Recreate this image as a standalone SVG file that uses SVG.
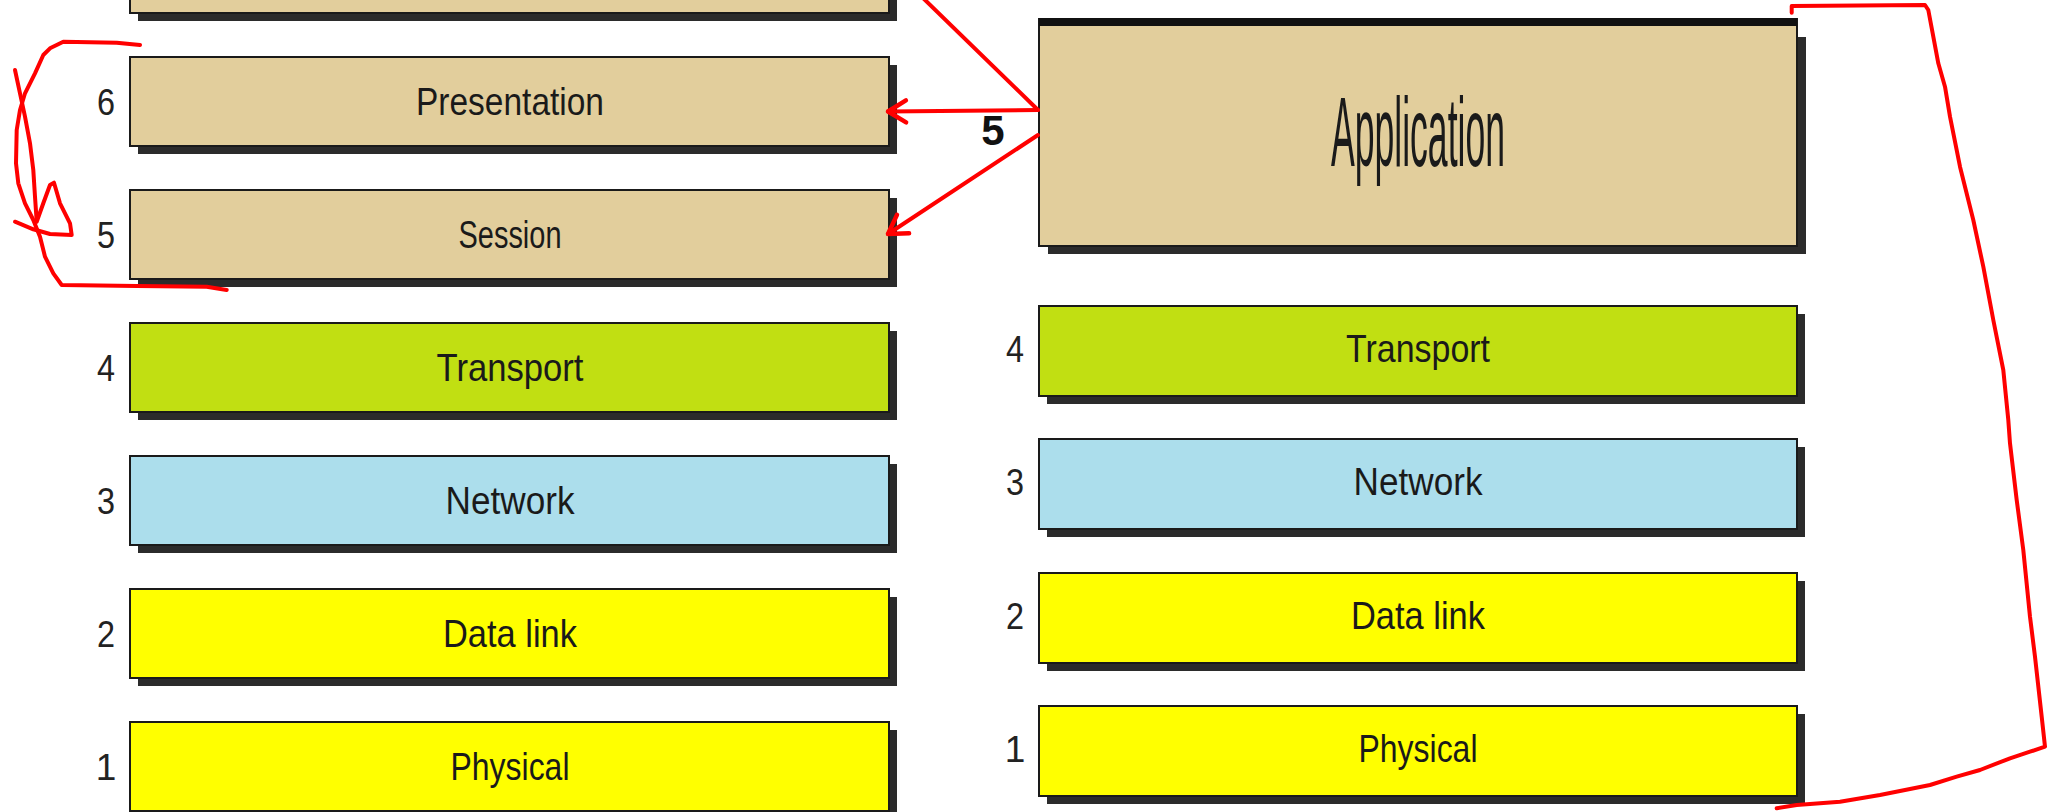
<svg xmlns="http://www.w3.org/2000/svg" width="2050" height="812" viewBox="0 0 2050 812">
<style>
.box{stroke:#1a1a1a;stroke-width:2}
.shadow{fill:#2b2b2b}
.tan{fill:#e2ce9c}
.green{fill:#c1df12}
.blue{fill:#acdeec}
.yellow{fill:#ffff00}
.lbl{font-family:"Liberation Sans",Arial,sans-serif;font-size:39px;fill:#1a1a1a;text-anchor:middle}
.num{font-family:"Liberation Sans",Arial,sans-serif;font-size:37px;fill:#222;text-anchor:middle}
.red{fill:none;stroke:#ff0000;stroke-width:4;stroke-linecap:round;stroke-linejoin:round}
</style>
<defs>
<marker id="chev" markerUnits="userSpaceOnUse" viewBox="-22 -15 26 30" refX="0" refY="0" markerWidth="26" markerHeight="30" orient="auto">
<path d="M-18,-11 L0,0 L-18,11" fill="none" stroke="#ff0000" stroke-width="4.5" stroke-linecap="round" stroke-linejoin="round"/>
</marker>
</defs>
<rect width="2050" height="812" fill="#ffffff"/>

<g id="left-7">
<rect class="shadow" x="138" y="-68" width="759" height="89"/>
<rect class="box tan" x="130" y="-76" width="759" height="89"/>
</g>
<g id="left-presentation">
<rect class="shadow" x="138" y="65" width="759" height="89"/>
<rect class="box tan" x="130" y="57" width="759" height="89"/>
<text class="num" x="106" y="115" textLength="18" lengthAdjust="spacingAndGlyphs">6</text>
<text class="lbl" x="510" y="115" textLength="188" lengthAdjust="spacingAndGlyphs">Presentation</text>
</g>
<g id="left-session">
<rect class="shadow" x="138" y="198" width="759" height="89"/>
<rect class="box tan" x="130" y="190" width="759" height="89"/>
<text class="num" x="106" y="248" textLength="18" lengthAdjust="spacingAndGlyphs">5</text>
<text class="lbl" x="510" y="248" textLength="103" lengthAdjust="spacingAndGlyphs">Session</text>
</g>
<g id="left-transport">
<rect class="shadow" x="138" y="331" width="759" height="89"/>
<rect class="box green" x="130" y="323" width="759" height="89"/>
<text class="num" x="106" y="381" textLength="18" lengthAdjust="spacingAndGlyphs">4</text>
<text class="lbl" x="510" y="381" textLength="147" lengthAdjust="spacingAndGlyphs">Transport</text>
</g>
<g id="left-network">
<rect class="shadow" x="138" y="464" width="759" height="89"/>
<rect class="box blue" x="130" y="456" width="759" height="89"/>
<text class="num" x="106" y="514" textLength="18" lengthAdjust="spacingAndGlyphs">3</text>
<text class="lbl" x="510" y="514" textLength="129" lengthAdjust="spacingAndGlyphs">Network</text>
</g>
<g id="left-datalink">
<rect class="shadow" x="138" y="597" width="759" height="89"/>
<rect class="box yellow" x="130" y="589" width="759" height="89"/>
<text class="num" x="106" y="647" textLength="18" lengthAdjust="spacingAndGlyphs">2</text>
<text class="lbl" x="510" y="647" textLength="134" lengthAdjust="spacingAndGlyphs">Data link</text>
</g>
<g id="left-physical">
<rect class="shadow" x="138" y="730" width="759" height="89"/>
<rect class="box yellow" x="130" y="722" width="759" height="89"/>
<text class="num" x="106" y="780">1</text>
<text class="lbl" x="510" y="780" textLength="119" lengthAdjust="spacingAndGlyphs">Physical</text>
</g>

<g id="right-application">
<rect class="shadow" x="1048" y="37" width="758" height="217"/>
<rect class="box tan" x="1039" y="19" width="758" height="227"/>
<rect x="1039" y="18" width="758" height="8" fill="#111"/>
<text x="1418" y="166" font-family="'Liberation Sans',Arial,sans-serif" font-size="98" fill="#1a1a1a" text-anchor="middle" textLength="174" lengthAdjust="spacingAndGlyphs">Application</text>
</g>
<g id="right-transport">
<rect class="shadow" x="1047" y="314" width="758" height="90"/>
<rect class="box green" x="1039" y="306" width="758" height="90"/>
<text class="num" x="1015" y="362" textLength="18" lengthAdjust="spacingAndGlyphs">4</text>
<text class="lbl" x="1418" y="362" textLength="144" lengthAdjust="spacingAndGlyphs">Transport</text>
</g>
<g id="right-network">
<rect class="shadow" x="1047" y="447" width="758" height="90"/>
<rect class="box blue" x="1039" y="439" width="758" height="90"/>
<text class="num" x="1015" y="495" textLength="18" lengthAdjust="spacingAndGlyphs">3</text>
<text class="lbl" x="1418" y="495" textLength="129" lengthAdjust="spacingAndGlyphs">Network</text>
</g>
<g id="right-datalink">
<rect class="shadow" x="1047" y="581" width="758" height="90"/>
<rect class="box yellow" x="1039" y="573" width="758" height="90"/>
<text class="num" x="1015" y="629" textLength="18" lengthAdjust="spacingAndGlyphs">2</text>
<text class="lbl" x="1418" y="629" textLength="134" lengthAdjust="spacingAndGlyphs">Data link</text>
</g>
<g id="right-physical">
<rect class="shadow" x="1047" y="714" width="758" height="90"/>
<rect class="box yellow" x="1039" y="706" width="758" height="90"/>
<text class="num" x="1015" y="762">1</text>
<text class="lbl" x="1418" y="762" textLength="119" lengthAdjust="spacingAndGlyphs">Physical</text>
</g>

<g id="connectors">
<path class="red" d="M923,-2 L1038,110"/>
<path class="red" d="M1038,110 L888,111.5" marker-end="url(#chev)"/>
<path class="red" d="M1038,135 L888,234" marker-end="url(#chev)"/>
<text x="993" y="145" font-family="'Liberation Sans',Arial,sans-serif" font-size="42" font-weight="bold" fill="#111" text-anchor="middle">5</text>
</g>

<g id="annotations">
<path class="red" d="M140,45 L116.7,42.7 L63.3,41.7 L50,48.3 L43.3,55 L35,73.3 L25,93.3 L20,110 L16.7,130 L16,163.3 L18.3,183.3 L25,203.3 L33.3,220 L40,236.7 L45,256.7 L53.3,273.3 L61.7,285 L136.7,286 L206.7,286.7 L226.7,290"/>
<path class="red" d="M15,70 L20,93.3 L25,116.7 L30,143.3 L33.3,170 L35,196.7 L36.7,221.7 L43.3,203.3 L50,185 L54,182.7 L60,203.3 L70,223.3 L71.7,235 L50,234 L33.3,229.3 L15,221.7"/>
<path class="red" d="M1791.7,12.7 L1791.7,6 L1925,5 L1928.3,10 L1933.3,36.7 L1938.3,63.3 L1945,86.7 L1950,116.7 L1960,166.7 L1973.3,220 L1983.3,266.7 L1993.3,320 L2003.3,370 L2008.3,420 L2010,443.3 L2016.7,500 L2023.3,550 L2030,616.7 L2035,656.7 L2041.7,716.7 L2045,746.7 L2030,751.7 L2010,758.3 L1980,770 L1956.7,776.7 L1930,785 L1880,795 L1840,801.7 L1796.7,805 L1776.7,808.3"/>
</g>
</svg>
